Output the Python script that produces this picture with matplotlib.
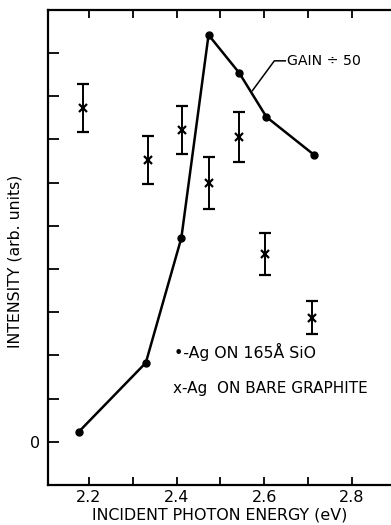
import matplotlib
matplotlib.use('Agg')
from matplotlib import pyplot as plt
from matplotlib.ticker import MultipleLocator

# Ag on 165 A SiO (gain / 50)
sio_energy = [2.177, 2.33, 2.411, 2.473, 2.543, 2.605, 2.714]
sio_intensity = [0.23, 1.83, 4.72, 9.42, 8.54, 7.52, 6.64]

# Ag on bare graphite
gr_energy = [2.186, 2.334, 2.413, 2.473, 2.543, 2.602, 2.709]
gr_intensity = [7.73, 6.53, 7.22, 6.0, 7.06, 4.35, 2.87]
gr_err = [0.55, 0.56, 0.55, 0.6, 0.58, 0.49, 0.38]

plt.rcParams['font.family'] = 'DejaVu Sans'

fig = plt.figure(figsize=(3.91, 5.25), dpi=100)
ax = fig.add_axes([0.1228, 0.0762, 0.8772, 0.905])

ax.plot(sio_energy, sio_intensity, color='black', lw=1.8,
        marker='o', markersize=5)
ax.errorbar(gr_energy, gr_intensity, yerr=gr_err, fmt='x', color='black',
            markersize=6, mew=1.6, elinewidth=1.4, capsize=4, capthick=1.4)

ax.set_xlim(2.107, 2.889)
ax.set_ylim(-1, 10)

ax.xaxis.set_minor_locator(MultipleLocator(0.1))
ax.set_xticks([2.2, 2.4, 2.6, 2.8])
ax.set_xticklabels(['2.2', '2.4', '2.6', '2.8'])
ax.set_yticks(range(0, 10))
ax.set_yticklabels(['0'] + [''] * 9)

ax.tick_params(which='both', direction='in', top=True, width=1.3,
               labelsize=11.5, colors='black')
ax.tick_params(which='major', length=6)
ax.tick_params(which='minor', length=6)
ax.tick_params(axis='y', length=8, pad=6)

ax.spines['right'].set_visible(False)
for s in ['left', 'top', 'bottom']:
    ax.spines[s].set_linewidth(1.6)

ax.set_xlabel('INCIDENT PHOTON ENERGY (eV)', fontsize=11.4, labelpad=2)
ax.set_ylabel('INTENSITY (arb. units)', fontsize=11.3)
ax.yaxis.set_label_coords(-0.075, 0.47)

# gain annotation
ax.plot([2.573, 2.623, 2.648], [8.13, 8.82, 8.82], color='black', lw=1.1)
ax.text(2.652, 8.82, 'GAIN ÷ 50', fontsize=10.2, va='center', ha='left')

# key
ax.text(2.395, 2.08, '•-Ag ON 165Å SiO', fontsize=11.3, va='center', ha='left')
ax.text(2.392, 1.23, 'x-Ag  ON BARE GRAPHITE', fontsize=11, va='center', ha='left')

fig.savefig('out.png', dpi=100)
